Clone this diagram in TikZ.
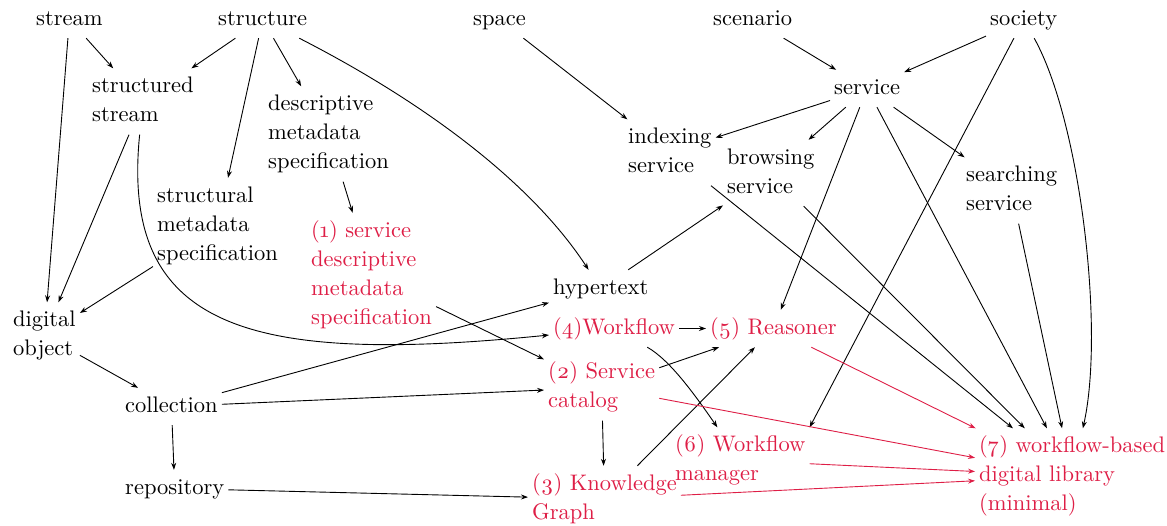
\documentclass[tikz,border=0pt]{standalone}
\usepackage{fontspec}
\setmainfont{lmroman10-regular.otf}
\usetikzlibrary{arrows.meta}
\definecolor{dlred}{RGB}{222,30,70}
\begin{document}
\begin{tikzpicture}[x=1pt,y=-1pt,
  lbl/.style={anchor=west, align=left, inner xsep=4pt, inner ysep=4pt,
    font=\fontsize{22.5}{29}\selectfont},
  redlbl/.style={lbl, text=dlred},
  arr/.style={-{Stealth[length=7pt,width=5pt]}, line width=0.9pt},
  rarr/.style={arr, draw=dlred}]
\useasboundingbox (0,0) rectangle (1167,525);

% concepts
\node[lbl] (stream)    at (32,19.5)   {\strut stream};
\node[lbl] (structure) at (214,19.5)  {\strut structure};
\node[lbl] (space)     at (469,19.5)  {\strut space};
\node[lbl] (scenario)  at (709,19.5)  {\strut scenario};
\node[lbl] (society)   at (986,19.5)  {\strut society};
\node[lbl] (sstream)   at (88,101.5)  {\strut structured\\\strut stream};
\node[lbl] (desc)      at (264,134)   {\strut descriptive\\metadata\\\strut specification};
\node[lbl] (struct)    at (153,225.5) {\strut structural\\metadata\\\strut specification};
\node[lbl] (dobj)      at (9,335.5)   {\strut digital\\\strut object};
\node[lbl] (hyper)     at (549,288.5) {\strut hypertext};
\node[lbl] (coll)      at (121,406.5) {\strut collection};
\node[lbl] (repo)      at (121,488.5) {\strut repository};
\node[lbl] (service)   at (830,88.5)  {\strut service};
\node[lbl] (idx)       at (624,152.5) {\strut indexing\\\strut service};
\node[lbl] (brw)       at (723,173)   {\strut browsing\\\strut service};
\node[lbl] (srch)      at (962,190.5) {\strut searching\\\strut service};

% workflow additions
\node[redlbl] (sdms) at (307,275)   {\strut(\oldstylenums{1}) service\\descriptive\\metadata\\\strut specification};
\node[redlbl] (wf)   at (549,328.5) {\strut(\oldstylenums{4})Workflow};
\node[redlbl] (reas) at (706,328.5) {\strut(\oldstylenums{5}) Reasoner};
\node[redlbl] (cat)  at (544,387.5) {\strut(\oldstylenums{2}) Service\\\strut catalog};
\node[redlbl] (wfm)  at (671,460.5) {\strut(\oldstylenums{6}) Workflow\\\strut manager};
\node[redlbl] (kg)   at (528,499)   {\strut(\oldstylenums{3}) Knowledge\\\strut Graph};
\node[redlbl] (dl)   at (975,476)   {\strut(\oldstylenums{7}) workflow-based\\digital library\\\strut(minimal)};

% black connectors
\draw[arr] (stream) -- (sstream);
\draw[arr] (stream) -- (dobj);
\draw[arr] (structure) -- (sstream);
\draw[arr] (structure) -- (struct);
\draw[arr] (structure) -- (desc);
\draw[arr] (structure) .. controls (420,100) and (530,180) .. (hyper);
\draw[arr] (sstream) .. controls (120,330) and (250,365) .. (wf);
\draw[arr] (sstream) -- (dobj);
\draw[arr] (struct) -- (dobj);
\draw[arr] (desc) -- (sdms);
\draw[arr] (sdms) -- (cat);
\draw[arr] (dobj) -- (coll);
\draw[arr] (coll) -- (hyper);
\draw[arr] (coll) -- (cat);
\draw[arr] (coll) -- (repo);
\draw[arr] (repo) -- (kg);
\draw[arr] (hyper) -- (brw);
\draw[arr] (space) -- (idx);
\draw[arr] (scenario) -- (service);
\draw[arr] (society) -- (service);
\draw[arr] (society) -- (wfm.north east);
\draw[arr] (society) .. controls (1080,120) and (1105,330) .. (dl);
\draw[arr] (service) -- (idx);
\draw[arr] (service) -- (brw);
\draw[arr] (service) -- (reas);
\draw[arr] (service) -- (srch);
\draw[arr] (service) -- (dl);
\draw[arr] (idx) -- (dl);
\draw[arr] (brw) -- (dl);
\draw[arr] (srch) -- (dl);
\draw[arr] (wf) -- (reas);
\draw[arr] (wf) .. controls (670,360) and (695,395) .. (wfm);
\draw[arr] (cat) -- (reas);
\draw[arr] (cat) -- (kg);
\draw[arr] (kg) -- (reas);

% red connectors into the library
\draw[rarr] (reas) -- (dl);
\draw[rarr] (cat) -- (dl);
\draw[rarr] (wfm) -- (dl);
\draw[rarr] (kg) -- (dl);
\end{tikzpicture}
\end{document}
